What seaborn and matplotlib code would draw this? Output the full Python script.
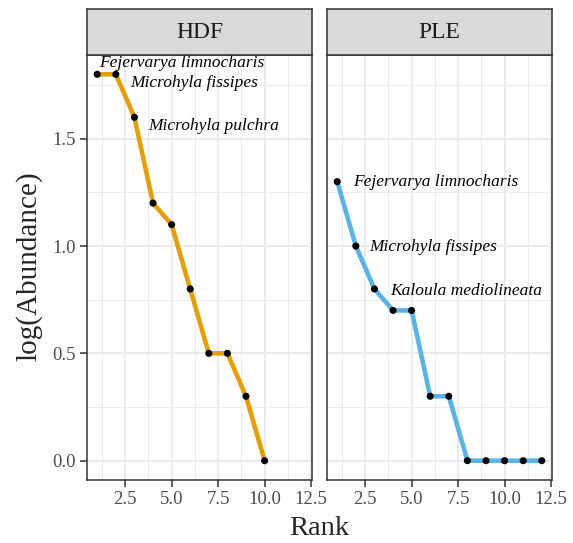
import matplotlib
matplotlib.use("Agg")
import matplotlib.pyplot as plt
import seaborn as sns
import pandas as pd
from matplotlib.ticker import MultipleLocator

sns.set_theme(style="white")
plt.rcParams['font.family'] = ['Liberation Serif', 'DejaVu Serif']

# data
sites = ["HDF", "PLE"]
hdf_rank = list(range(1, 11))
hdf_abund = [1.8, 1.8, 1.6, 1.2, 1.1, 0.8, 0.5, 0.5, 0.3, 0.0]
ple_rank = list(range(1, 13))
ple_abund = [1.3, 1.0, 0.8, 0.7, 0.7, 0.3, 0.3, 0.0, 0.0, 0.0, 0.0, 0.0]
hdf_species = ["Fejervarya limnocharis", "Microhyla fissipes", "Microhyla pulchra"]
ple_species = ["Fejervarya limnocharis", "Microhyla fissipes", "Kaloula mediolineata"]

site_colors = {"HDF": "#E69F00", "PLE": "#56B4E9"}
# label offsets (points) from the point they name
label_offsets = {
    "HDF": [(1, 8.4), (10, -6.5), (10, -6.2)],
    "PLE": [(11.5, -0.5), (9.6, -1), (11.5, -1.6)],
}

df = pd.concat([
    pd.DataFrame({"site": "HDF", "Rank": hdf_rank, "Abundance": hdf_abund}),
    pd.DataFrame({"site": "PLE", "Rank": ple_rank, "Abundance": ple_abund}),
])
species = {"HDF": hdf_species, "PLE": ple_species}

W, H = 573, 543
fig = plt.figure(figsize=(W / 100, H / 100), dpi=100)

panel_left = [87 / W, 327 / W]
panel_w = 225 / W
panel_bottom = (H - 480) / H
panel_h = 425 / H
strip_bottom = (H - 55) / H
strip_h = 46 / H

edge = "#333333"
axes = []
for i, site in enumerate(sites):
    ax = fig.add_axes([panel_left[i], panel_bottom, panel_w, panel_h],
                      sharey=axes[0] if axes else None)
    axes.append(ax)
    sub = df[df["site"] == site]

    sns.lineplot(data=sub, x="Rank", y="Abundance", color=site_colors[site],
                 lw=3.3, ax=ax, zorder=2)
    sns.scatterplot(data=sub, x="Rank", y="Abundance", color="black",
                    s=26, edgecolor="none", ax=ax, zorder=3)

    for j, name in enumerate(species[site]):
        row = sub.iloc[j]
        dx, dy = label_offsets[site][j]
        ax.annotate(name, (row["Rank"], row["Abundance"]),
                    xytext=(dx, dy), textcoords="offset points",
                    ha="left", va="center", fontsize=12.5,
                    style="italic", color="black", zorder=4)

    ax.set_xlim(0.45, 12.55)
    ax.set_ylim(-0.09, 1.89)
    ax.xaxis.set_major_locator(MultipleLocator(2.5))
    ax.xaxis.set_minor_locator(MultipleLocator(1.25))
    ax.yaxis.set_major_locator(MultipleLocator(0.5))
    ax.yaxis.set_minor_locator(MultipleLocator(0.25))
    ax.set_xticks([2.5, 5.0, 7.5, 10.0, 12.5])
    ax.set_xticklabels(["2.5", "5.0", "7.5", "10.0", "12.5"])

    ax.set_facecolor("white")
    ax.grid(which="major", color="#EBEBEB", lw=1.5, zorder=0)
    ax.grid(which="minor", color="#EBEBEB", lw=0.75, zorder=0)
    ax.set_axisbelow(True)
    for sp in ax.spines.values():
        sp.set_color(edge)
        sp.set_linewidth(1.1)

    ax.tick_params(which="major", length=4.8, width=1.1, color=edge,
                   labelsize=13.5, labelcolor="#4D4D4D", pad=3)
    ax.tick_params(which="minor", length=0)
    ax.tick_params(axis="x", bottom=True)
    if i == 0:
        ax.tick_params(axis="y", left=True)
        ax.set_yticks([0.0, 0.5, 1.0, 1.5])
        ax.set_yticklabels(["0.0", "0.5", "1.0", "1.5"])
    else:
        ax.tick_params(axis="y", left=False, labelleft=False)
    ax.set_xlabel("")
    ax.set_ylabel("")

    # facet strip
    sax = fig.add_axes([panel_left[i], strip_bottom, panel_w, strip_h])
    sax.set_facecolor("#D9D9D9")
    sax.set_xticks([])
    sax.set_yticks([])
    for sp in sax.spines.values():
        sp.set_color(edge)
        sp.set_linewidth(1.1)
    sax.text(0.5, 0.5, site, ha="center", va="center", fontsize=17,
             color="#1A1A1A", transform=sax.transAxes)

fig.text((87 + 552) / 2 / W, 8 / H, "Rank", ha="center", va="baseline",
         fontsize=20.5)
fig.text(29 / W, 1 - 266 / H, "log(Abundance)", ha="center", va="center",
         rotation=90, fontsize=21)

fig.savefig("out.png", dpi=100, facecolor="white")
